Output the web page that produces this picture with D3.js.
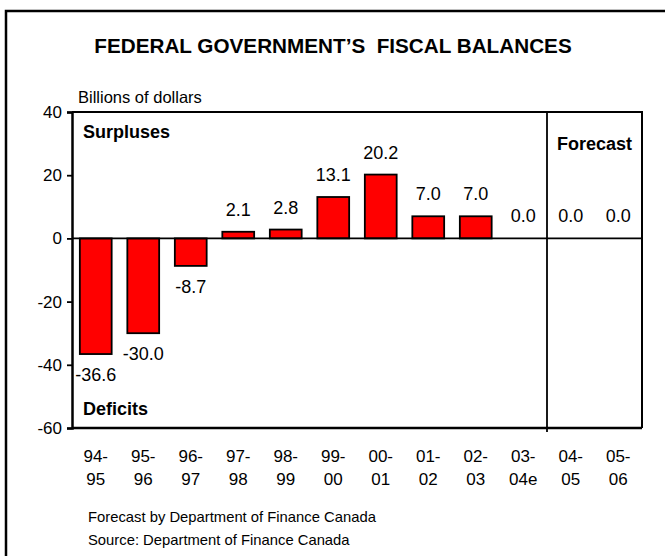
<!DOCTYPE html>
<html>
<head>
<meta charset="utf-8">
<script src="https://cdn.jsdelivr.net/npm/d3@7"></script>
<style>
  html, body { margin: 0; padding: 0; background: #fff; }
  svg { display: block; font-family: "Liberation Sans", Arial, sans-serif; }
</style>
</head>
<body>
<svg id="chart" width="665" height="556"></svg>
<script>
// Fiscal years (two-line labels) and budgetary balance, billions of dollars
const yearsTop    = ["94-", "95-", "96-", "97-", "98-", "99-", "00-", "01-", "02-", "03-", "04-", "05-"];
const yearsBottom = ["95", "96", "97", "98", "99", "00", "01", "02", "03", "04e", "05", "06"];
const balances    = [-36.6, -30.0, -8.7, 2.1, 2.8, 13.1, 20.2, 7.0, 7.0, 0.0, 0.0, 0.0];
const yTicks      = [40, 20, 0, -20, -40, -60];
const forecastFrom = "04-05";

const categories = yearsTop.map((t, i) => t + yearsBottom[i]);
const data = categories.map((c, i) => ({ key: c, top: yearsTop[i], bottom: yearsBottom[i], value: balances[i] }));

// plain hyphen for negative numbers
const fmt1 = v => d3.format(".1f")(v).replace("\u2212", "-");
const fmt0 = v => d3.format("d")(v).replace("\u2212", "-");

const svg = d3.select("#chart");
const W = 665, H = 556;
const plot = { left: 72, right: 642, top: 112, bottom: 428 };

// outer frame (open on the right and bottom)
svg.append("path")
  .attr("d", `M6,${H} L6,11 L${W},11`)
  .attr("fill", "none").attr("stroke", "#000").attr("stroke-width", 2.5);

const x = d3.scaleBand().domain(categories).range([plot.left, plot.right]).paddingInner(0.33).paddingOuter(0.165);
const y = d3.scaleLinear().domain([-60, 40]).range([plot.bottom, plot.top]);

// title
svg.append("text")
  .attr("x", 333).attr("y", 53)
  .attr("text-anchor", "middle")
  .attr("font-size", 20.7).attr("font-weight", "bold")
  .style("white-space", "pre")
  .text("FEDERAL GOVERNMENT\u2019S  FISCAL BALANCES");

svg.append("text")
  .attr("x", 78).attr("y", 103)
  .attr("font-size", 16.5)
  .text("Billions of dollars");

// bars
svg.append("g").selectAll("rect")
  .data(data.filter(d => d.value !== 0))
  .join("rect")
  .attr("x", d => x(d.key))
  .attr("width", x.bandwidth())
  .attr("y", d => y(Math.max(0, d.value)))
  .attr("height", d => Math.abs(y(d.value) - y(0)))
  .attr("fill", "#ff0000")
  .attr("stroke", "#000").attr("stroke-width", 1.8);

// plot box: top and right edges
svg.append("path")
  .attr("d", `M${plot.left},${plot.top} L${plot.right},${plot.top} L${plot.right},${plot.bottom}`)
  .attr("fill", "none").attr("stroke", "#000").attr("stroke-width", 2);

// zero line
svg.append("line")
  .attr("x1", plot.left).attr("x2", plot.right)
  .attr("y1", y(0)).attr("y2", y(0))
  .attr("stroke", "#000").attr("stroke-width", 1.8);

// forecast separator
const sepX = x(forecastFrom) - x.step() * x.paddingInner() / 2;
svg.append("line")
  .attr("x1", sepX).attr("x2", sepX)
  .attr("y1", plot.top).attr("y2", plot.bottom + 4)
  .attr("stroke", "#000").attr("stroke-width", 1.8);

// y axis
const yAxis = svg.append("g")
  .attr("transform", `translate(${plot.left},0)`)
  .call(d3.axisLeft(y).tickValues(yTicks).tickSize(5).tickPadding(5).tickFormat(fmt0));
yAxis.select(".domain").attr("stroke-width", 2.5);
yAxis.selectAll(".tick line").attr("stroke-width", 1.8);
yAxis.selectAll(".tick text").attr("font-size", 17).attr("font-family", null).attr("fill", "#000");

// x axis baseline
svg.append("line")
  .attr("x1", plot.left).attr("x2", plot.right)
  .attr("y1", plot.bottom).attr("y2", plot.bottom)
  .attr("stroke", "#000").attr("stroke-width", 2.5);

// category labels
const xl = svg.append("g").attr("font-size", 17).attr("text-anchor", "middle");
xl.selectAll("text.t").data(data).join("text").attr("class", "t")
  .attr("x", d => x(d.key) + x.bandwidth() / 2).attr("y", 462).text(d => d.top);
xl.selectAll("text.b").data(data).join("text").attr("class", "b")
  .attr("x", d => x(d.key) + x.bandwidth() / 2).attr("y", 485).text(d => d.bottom);

// value labels
svg.append("g").attr("font-size", 18).attr("text-anchor", "middle")
  .selectAll("text").data(data).join("text")
  .attr("x", d => x(d.key) + x.bandwidth() / 2)
  .attr("y", d => d.value < 0 ? y(d.value) + 27 : y(d.value) - 16)
  .text(d => fmt1(d.value));

// annotations
svg.append("text").attr("x", 83).attr("y", 138).attr("font-size", 18).attr("font-weight", "bold").text("Surpluses");
svg.append("text").attr("x", 83).attr("y", 415).attr("font-size", 18).attr("font-weight", "bold").text("Deficits");
svg.append("text").attr("x", (sepX + plot.right) / 2).attr("y", 150).attr("text-anchor", "middle")
  .attr("font-size", 18).attr("font-weight", "bold").text("Forecast");

// notes
svg.append("text").attr("x", 88).attr("y", 522).attr("font-size", 14.8).text("Forecast by Department of Finance Canada");
svg.append("text").attr("x", 88).attr("y", 545).attr("font-size", 14.8).text("Source: Department of Finance Canada");
</script>
</body>
</html>
